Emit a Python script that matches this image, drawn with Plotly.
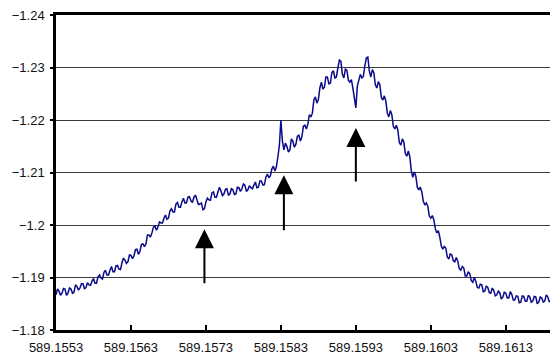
import plotly.graph_objects as go

# Spectrum samples (evenly spaced wavelength grid)
wl_start = 589.1553
wl_step = 0.00002

intensity = [
    -1.1867, -1.1878, -1.1874, -1.1866, -1.1870, -1.1879, -1.1878, -1.1866, -1.1870, -1.1880,
    -1.1878, -1.1870, -1.1872, -1.1886, -1.1883, -1.1876, -1.1880, -1.1888, -1.1888, -1.1878,
    -1.1881, -1.1890, -1.1886, -1.1885, -1.1893, -1.1898, -1.1889, -1.1889, -1.1901, -1.1905,
    -1.1899, -1.1897, -1.1910, -1.1914, -1.1905, -1.1905, -1.1914, -1.1921, -1.1911, -1.1911,
    -1.1922, -1.1923, -1.1916, -1.1915, -1.1928, -1.1937, -1.1933, -1.1927, -1.1930, -1.1943,
    -1.1942, -1.1936, -1.1941, -1.1953, -1.1954, -1.1944, -1.1950, -1.1963, -1.1964, -1.1959,
    -1.1964, -1.1981, -1.1981, -1.1977, -1.1985, -1.1996, -1.1998, -1.1990, -1.1996, -1.2006,
    -1.2004, -1.2004, -1.2013, -1.2019, -1.2011, -1.2013, -1.2027, -1.2031, -1.2025, -1.2025,
    -1.2040, -1.2043, -1.2034, -1.2034, -1.2044, -1.2051, -1.2042, -1.2042, -1.2053, -1.2054,
    -1.2046, -1.2043, -1.2053, -1.2057, -1.2048, -1.2039, -1.2040, -1.2042, -1.2029, -1.2031,
    -1.2044, -1.2051, -1.2048, -1.2047, -1.2061, -1.2063, -1.2053, -1.2053, -1.2063, -1.2072,
    -1.2065, -1.2056, -1.2059, -1.2068, -1.2069, -1.2057, -1.2059, -1.2069, -1.2067, -1.2058,
    -1.2059, -1.2072, -1.2071, -1.2064, -1.2069, -1.2078, -1.2076, -1.2064, -1.2067, -1.2075,
    -1.2071, -1.2069, -1.2076, -1.2082, -1.2071, -1.2072, -1.2084, -1.2084, -1.2076, -1.2077,
    -1.2091, -1.2097, -1.2090, -1.2094, -1.2107, -1.2112, -1.2103, -1.2111, -1.2130, -1.2152,
    -1.2200, -1.2160, -1.2143, -1.2156, -1.2150, -1.2139, -1.2143, -1.2164, -1.2160, -1.2148,
    -1.2154, -1.2169, -1.2171, -1.2160, -1.2168, -1.2188, -1.2190, -1.2183, -1.2192, -1.2210,
    -1.2206, -1.2213, -1.2238, -1.2244, -1.2232, -1.2239, -1.2261, -1.2272, -1.2259, -1.2262,
    -1.2282, -1.2282, -1.2269, -1.2270, -1.2290, -1.2294, -1.2280, -1.2282, -1.2299, -1.2314,
    -1.2312, -1.2287, -1.2280, -1.2297, -1.2295, -1.2276, -1.2272, -1.2277, -1.2261, -1.2236,
    -1.2223, -1.2265, -1.2278, -1.2287, -1.2280, -1.2283, -1.2303, -1.2318, -1.2320, -1.2293,
    -1.2282, -1.2296, -1.2290, -1.2267, -1.2261, -1.2273, -1.2267, -1.2243, -1.2238, -1.2246,
    -1.2236, -1.2213, -1.2206, -1.2218, -1.2210, -1.2188, -1.2183, -1.2190, -1.2181, -1.2157,
    -1.2152, -1.2164, -1.2158, -1.2136, -1.2131, -1.2141, -1.2130, -1.2103, -1.2091, -1.2101,
    -1.2093, -1.2072, -1.2067, -1.2072, -1.2063, -1.2045, -1.2038, -1.2042, -1.2036, -1.2017,
    -1.2013, -1.2018, -1.2010, -1.1993, -1.1985, -1.1989, -1.1977, -1.1960, -1.1954, -1.1959,
    -1.1956, -1.1939, -1.1935, -1.1945, -1.1943, -1.1932, -1.1930, -1.1938, -1.1931, -1.1917,
    -1.1914, -1.1921, -1.1918, -1.1903, -1.1903, -1.1911, -1.1907, -1.1894, -1.1891, -1.1900,
    -1.1893, -1.1881, -1.1880, -1.1887, -1.1886, -1.1873, -1.1874, -1.1884, -1.1881, -1.1871,
    -1.1870, -1.1880, -1.1875, -1.1865, -1.1867, -1.1874, -1.1871, -1.1859, -1.1862, -1.1872,
    -1.1870, -1.1861, -1.1861, -1.1873, -1.1868, -1.1857, -1.1857, -1.1865, -1.1864, -1.1852,
    -1.1853, -1.1865, -1.1864, -1.1855, -1.1855, -1.1866, -1.1863, -1.1853, -1.1855, -1.1864,
    -1.1863, -1.1850, -1.1853, -1.1863, -1.1861, -1.1853, -1.1855, -1.1867, -1.1863, -1.1854,
    -1.1856, -1.1864, -1.1864, -1.1854, -1.1858,
]
wavelength = [round(wl_start + wl_step * i, 5) for i in range(len(intensity))]

x_ticks = [589.1553, 589.1563, 589.1573, 589.1583, 589.1593, 589.1603, 589.1613]
x_tick_labels = ["589.1553", "589.1563", "589.1573", "589.1583", "589.1593", "589.1603", "589.1613"]
y_ticks = [-1.24, -1.23, -1.22, -1.21, -1.20, -1.19, -1.18]
y_tick_labels = ["\u22121.24", "\u22121.23", "\u22121.22", "\u22121.21", "\u22121.2", "\u22121.19", "\u22121.18"]

# Arrow markers: (x, tip y, tail y)
arrow_x = [589.15728, 589.15834, 589.1593]
arrow_tip = [-1.1992, -1.2095, -1.2185]
arrow_tail = [-1.1886, -1.1987, -1.2080]

fig = go.Figure()
fig.add_trace(go.Scatter(
    x=wavelength, y=intensity, mode="lines",
    line=dict(color="#0a0a8a", width=1.5),
    showlegend=False, hoverinfo="skip",
))

for ax_, tip, tail in zip(arrow_x, arrow_tip, arrow_tail):
    fig.add_annotation(
        x=ax_, y=tip, ax=ax_, ay=tail, xref="x", yref="y", axref="x", ayref="y",
        text="", showarrow=True, arrowhead=2, arrowsize=1.9, arrowwidth=2,
        arrowcolor="black", standoff=0,
    )

font = dict(family="Liberation Sans, Arial, sans-serif", size=13, color="#111111")

# the page body adds an 8px offset, so the figure is sized to fit the window
fig.update_layout(
    width=550, height=348,
    margin=dict(l=48, r=2, t=7, b=26, autoexpand=False),
    paper_bgcolor="white", plot_bgcolor="white",
    font=font,
    xaxis=dict(
        range=[589.1553, 589.16197],
        tickvals=x_ticks, ticktext=x_tick_labels,
        showgrid=False, zeroline=False, automargin=False,
        showline=True, linecolor="black", linewidth=2.5, mirror=True,
        ticks="inside", ticklen=5, tickwidth=1.5, tickcolor="black",
        tickfont=font, ticklabelstandoff=4, ticklabeloverflow="allow",
    ),
    yaxis=dict(
        range=[-1.18, -1.24],
        tickvals=y_ticks, ticktext=y_tick_labels,
        showgrid=True, gridcolor="#3c3c3c", gridwidth=1,
        zeroline=False, automargin=False,
        showline=True, linecolor="black", linewidth=2.5, mirror=True,
        ticks="outside", ticklen=3, tickwidth=1.5, tickcolor="black",
        tickfont=font, ticklabelstandoff=3, ticklabeloverflow="allow",
    ),
)

fig.write_html("out.html")
